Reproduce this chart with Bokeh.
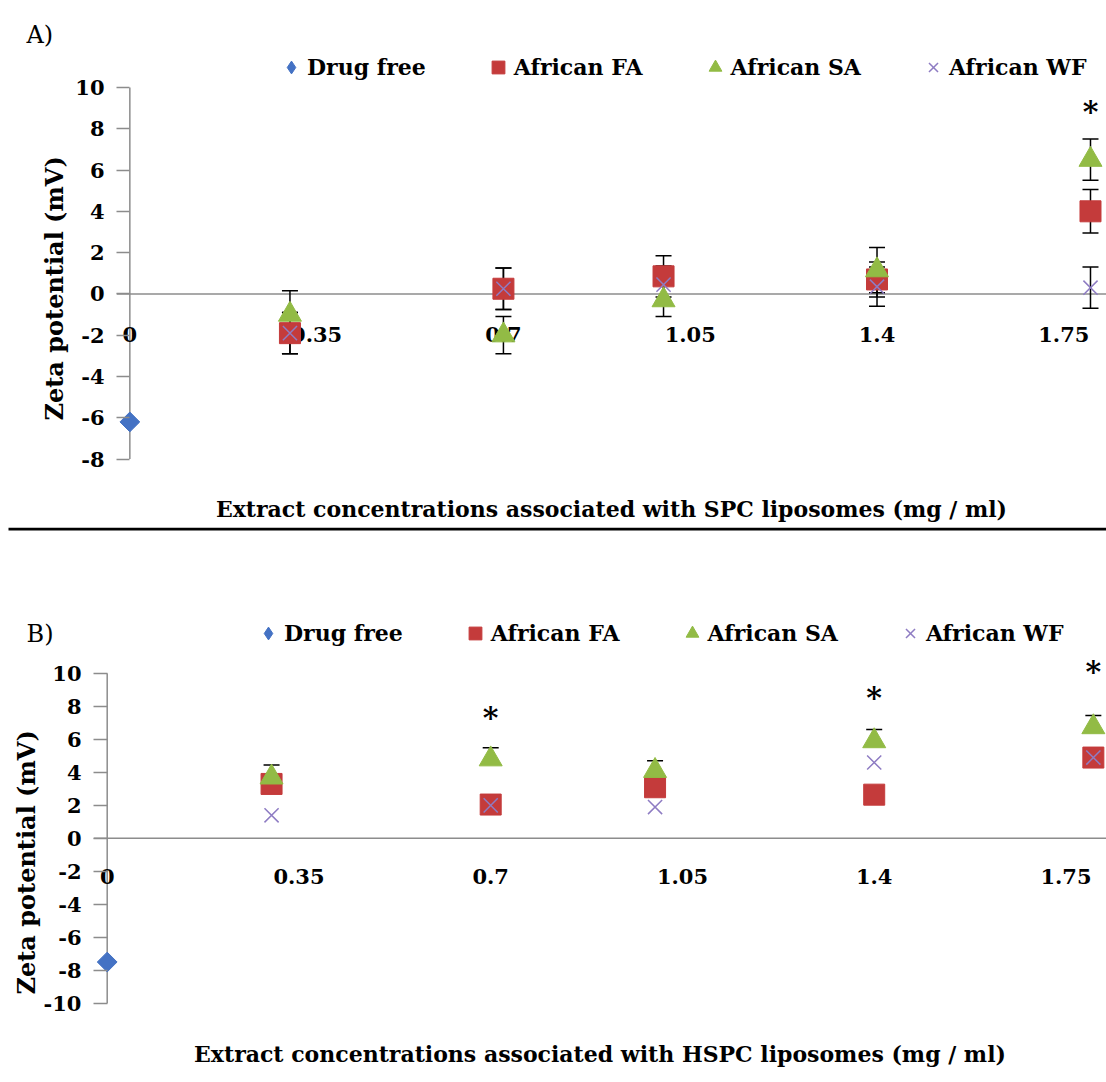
import numpy as np
from bokeh.plotting import figure
from bokeh.models import (ColumnDataSource, FixedTicker, Span, Whisker, TeeHead,
                          Legend, LegendItem, Title, Range1d)
from bokeh.layouts import column
from bokeh.embed import file_html
from bokeh.resources import INLINE
from bokeh.core.properties import value

# ---------------- data ----------------
tick_values = [0, 0.35, 0.7, 1.05, 1.4, 1.75]
tick_labels = ["0", "0.35", "0.7", "1.05", "1.4", "1.75"]
conc = [0.3, 0.7, 1.0, 1.4, 1.8]          # plotted x of the extract points
drug_free_x = [0]

a_yticks = [-8, -6, -4, -2, 0, 2, 4, 6, 8, 10]
a_drug_free = [-6.2]
a_fa = [-1.9, 0.25, 0.85, 0.7, 4.0]
a_fa_err = [1.0, 1.0, 1.0, 0.85, 1.05]
a_sa = [-1.0, -2.0, -0.3, 1.15, 6.5]
a_sa_err = [1.15, 0.9, 0.8, 1.1, 1.0]
a_wf = [-1.9, 0.25, 0.45, 0.35, 0.3]
a_wf_err = [1.0, 1.0, 0.9, 0.95, 1.0]
a_star_x = [1.8]
a_star_y = [8.85]

b_yticks = [-10, -8, -6, -4, -2, 0, 2, 4, 6, 8, 10]
b_drug_free = [-7.5]
b_fa = [3.3, 2.05, 3.1, 2.65, 4.9]
b_sa = [3.7, 4.8, 4.1, 5.9, 6.75]
b_sa_err = [0.75, 0.7, 0.6, 0.7, 0.7]
b_wf = [1.4, 2.0, 1.9, 4.6, 4.9]
b_star_x = [0.7, 1.4, 1.8]
b_star_y = [7.3, 8.55, 10.1]

series_names = ["Drug free", "African FA", "African SA", "African WF"]
C_DF, C_FA, C_SA, C_WF = "#4472C4", "#C43B3B", "#92BB45", "#8E7CC3"
AXIS_GREY = "#8c8c8c"
FONT = "DejaVu Serif"
W = 1106

MARKERS = [dict(marker="diamond", fill_color=C_DF, line_color=C_DF),
           dict(marker="square", fill_color=C_FA, line_color=C_FA),
           dict(marker="triangle", fill_color=C_SA, line_color=C_SA),
           dict(marker="x", line_color=C_WF, line_width=1.5)]


def make_legend(fig, loc):
    """Legend-only renderers (a single NaN point, never drawn in the plot) so the
    legend symbols match the reference."""
    rs = [fig.scatter(x=[np.nan], y=[np.nan], **m) for m in MARKERS]
    return Legend(items=[LegendItem(label=n, renderers=[r])
                         for n, r in zip(series_names, rs)],
                  orientation="horizontal", location=loc,
                  glyph_width=32, glyph_height=32, label_standoff=0, spacing=56,
                  padding=0, margin=0, border_line_color=None,
                  background_fill_alpha=0,
                  label_text_font=FONT, label_text_font_style="bold",
                  label_text_font_size="22px", label_text_color="black")


def panel(ytitle_offset, ytitle_standoff, xtitle, yticks, y_range, x_range, height,
          mb_top, mb_bottom, mb_left, tick_in, df_vals, fa, fa_err, sa, sa_err, wf,
          wf_err, star_x, star_y, xlab_offset, xtitle_standoff, plus_only):
    p = figure(width=W, height=height, output_backend="svg", toolbar_location=None,
               title=None, frame_align=False,
               x_range=Range1d(*x_range), y_range=Range1d(*y_range),
               min_border_left=mb_left, min_border_right=0,
               min_border_top=mb_top, min_border_bottom=mb_bottom,
               outline_line_color=None, background_fill_color="white",
               border_fill_color="white")
    p.grid.visible = False

    # y axis
    ya = p.yaxis[0]
    ya.ticker = FixedTicker(ticks=yticks)
    ya.major_label_overrides = {t: str(t) for t in yticks}
    ya.axis_line_color = None
    ya.major_tick_in = tick_in
    ya.major_tick_out = 0
    ya.major_tick_line_color = AXIS_GREY
    ya.major_tick_line_width = 1.5
    ya.minor_tick_line_color = None
    ya.major_label_standoff = 12
    ya.major_label_text_font = FONT
    ya.major_label_text_font_style = "bold"
    ya.major_label_text_font_size = "21px"
    ya.major_label_text_color = "black"

    # x axis: only its title
    xa = p.xaxis[0]
    xa.ticker = FixedTicker(ticks=[])
    xa.axis_line_color = None
    xa.major_tick_in = 0
    xa.major_tick_out = 0
    xa.minor_tick_line_color = None
    xa.axis_label = xtitle
    xa.axis_label_text_font = FONT
    xa.axis_label_text_font_style = "bold"
    xa.axis_label_text_font_size = "22px"
    xa.axis_label_text_color = "black"
    xa.axis_label_standoff = xtitle_standoff

    # zero line and y axis line
    p.add_layout(Span(location=0, dimension="width", line_color=AXIS_GREY,
                      line_width=1.5, level="underlay"))
    p.segment(x0=[0], y0=[min(yticks)], x1=[0], y1=[max(yticks)],
              line_color=AXIS_GREY, line_width=1.5)

    # category labels along the zero line
    p.text(x=tick_values, y=[0] * len(tick_values), text=tick_labels,
           text_font=value(FONT), text_font_style="bold", text_font_size="21px",
           text_align="center", text_baseline="middle", y_offset=xlab_offset,
           text_color="black")

    # error bars
    def whisk(vals, errs, plus):
        lower = vals if plus else [v - e for v, e in zip(vals, errs)]
        upper = [v + e for v, e in zip(vals, errs)]
        src = ColumnDataSource(dict(x=conc, lower=lower, upper=upper))
        w = Whisker(base="x", lower="lower", upper="upper", source=src,
                    dimension="height", line_color="black", line_width=1.5,
                    upper_head=TeeHead(size=16, line_color="black", line_width=1.5),
                    lower_head=None if plus else TeeHead(size=16, line_color="black",
                                                         line_width=1.5),
                    level="underlay")
        p.add_layout(w)

    for vals, errs in ((fa, fa_err), (sa, sa_err), (wf, wf_err)):
        if errs is not None:
            whisk(vals, errs, plus_only)

    p.scatter(x=drug_free_x, y=df_vals, marker="square", angle=np.pi / 4,
              size=14, fill_color=C_DF, line_color=C_DF)
    p.scatter(x=conc, y=fa, marker="square", size=21, fill_color=C_FA, line_color=C_FA)
    p.scatter(x=conc, y=sa, marker="triangle", size=23, fill_color=C_SA, line_color=C_SA)
    p.scatter(x=conc, y=wf, marker="x", size=20, line_color=C_WF, line_width=1.5)

    p.text(x=star_x, y=star_y, text=["*"] * len(star_x), text_font=value(FONT),
           text_font_style="bold", text_font_size="30px", text_align="center",
           text_baseline="middle", text_color="black")

    # y axis title
    p.add_layout(Title(text="Zeta potential (mV)", align="left", offset=ytitle_offset,
                       standoff=ytitle_standoff, vertical_align="bottom",
                       text_font=FONT, text_font_style="bold", text_font_size="24px",
                       text_color="black"), "left")
    return p


# ---------- panel A ----------
pA = panel(51, 8, "Extract concentrations associated with SPC liposomes (mg / ml)",
           a_yticks, (-8.6, 11.69), (-0.025, 1.83), 527, 52, 56, 116, 13,
           a_drug_free, a_fa, a_fa_err, a_sa, a_sa_err, a_wf, a_wf_err,
           a_star_x, a_star_y, 41, 24, False)
pA.add_layout(Title(text="A)", align="left", offset=-90, standoff=8,
                    vertical_align="bottom", text_font=FONT, text_font_style="normal",
                    text_font_size="24px", text_color="black"), "above")
pA.add_layout(make_legend(pA, (159, 388)))

# ---------- separator + header of panel B ----------
hdr = figure(width=W, height=128, output_backend="svg", toolbar_location=None,
             title=None, frame_align=False,
             x_range=Range1d(0, W), y_range=Range1d(0, 128),
             x_axis_location=None, y_axis_location=None,
             min_border=0, outline_line_color=None)
hdr.grid.visible = False
hdr.segment(x0=[8], y0=[126.5], x1=[W], y1=[126.5], line_color="black", line_width=3)
hdr.text(x=[26], y=[8], text=["B)"], text_font=value(FONT), text_font_size="24px",
         text_align="left", text_baseline="bottom", text_color="black")
hdr.add_layout(make_legend(hdr, (252, 6)))

# ---------- panel B ----------
pB = panel(17, 0, "Extract concentrations associated with HSPC liposomes (mg / ml)",
           b_yticks, (-10.5, 11.09), (-0.025, 1.824), 427, 0, 71, 93, 14,
           b_drug_free, b_fa, None, b_sa, b_sa_err, b_wf, None,
           b_star_x, b_star_y, 38, 29, True)

layout = column(pA, hdr, pB, spacing=0)
open("out.html", "w").write(file_html(layout, INLINE))
